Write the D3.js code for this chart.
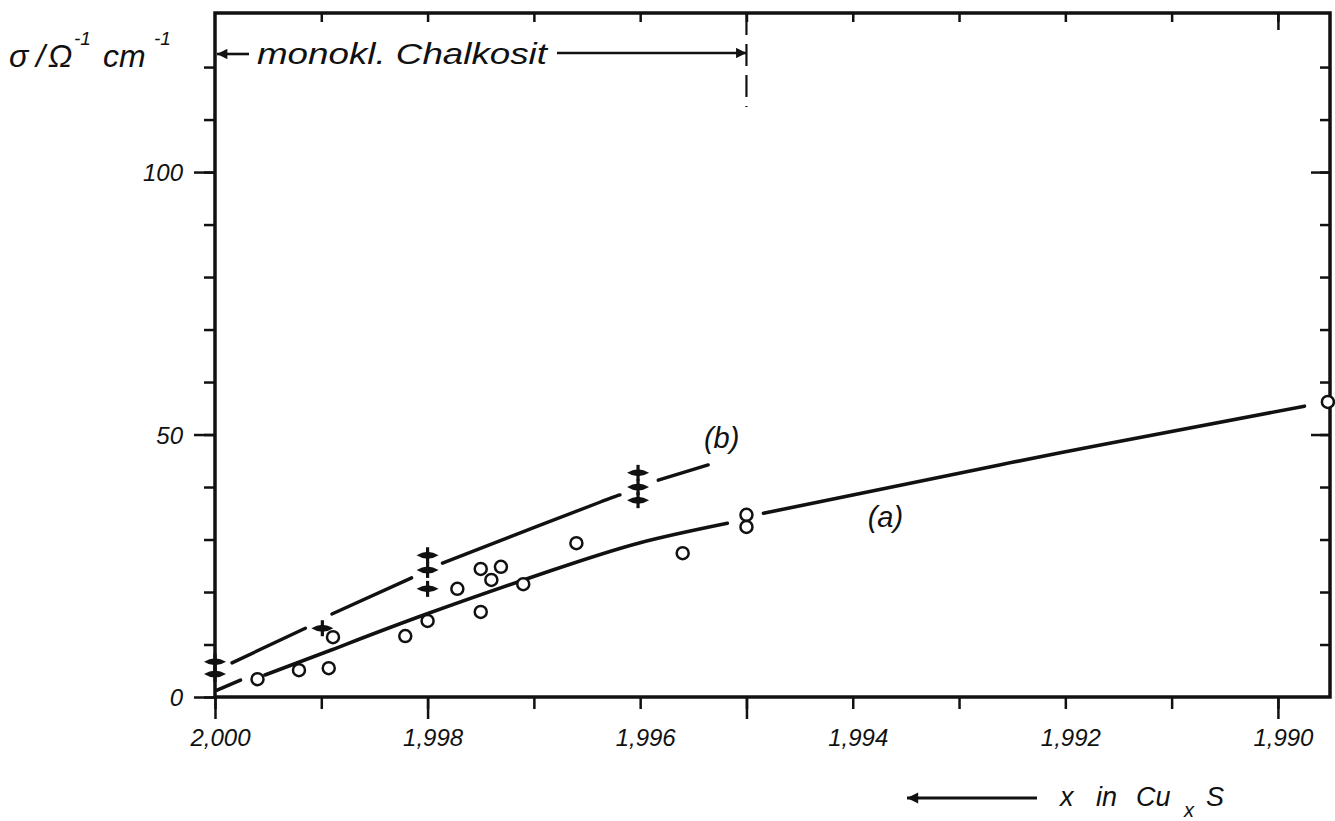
<!DOCTYPE html>
<html>
<head>
<meta charset="utf-8">
<script src="https://d3js.org/d3.v7.min.js"></script>
<style>
  body { margin: 0; background: #fff; }
  svg { display: block; }
  text { font-family: "Liberation Sans", Arial, sans-serif; font-style: italic; fill: #111; }
</style>
</head>
<body>
<svg width="1335" height="821"></svg>
<script>
// measured points (x in CuxS, sigma in Ohm^-1 cm^-1)
var circleX = [1.99960, 1.99921, 1.99893, 1.99889, 1.99821, 1.99800, 1.99772, 1.99750, 1.99750, 1.99740, 1.99731, 1.99710, 1.99660, 1.99560, 1.99500, 1.99500, 1.98953];
var circleY = [3.4, 5.1, 5.5, 11.4, 11.6, 14.5, 20.6, 24.4, 16.2, 22.3, 24.8, 21.5, 29.3, 27.4, 34.7, 32.4, 56.2];
var crossX = [2.000, 2.000, 1.99899, 1.998, 1.998, 1.998, 1.99602, 1.99602, 1.99602];
var crossY = [6.7, 4.4, 13.1, 27.0, 24.2, 20.6, 42.7, 40.0, 37.5];

// curve (a), solid, broken where it passes markers
var curveA = [
  { x: [1.99998, 1.99976], y: [1.3, 3.2] },
  { x: [1.99953, 1.99890, 1.99801, 1.99685, 1.99600, 1.99518], y: [4.2, 9.0, 15.8, 24.0, 29.4, 33.1] },
  { x: [1.99484, 1.99262, 1.99167, 1.98975], y: [35.0, 44.2, 48.0, 55.4] }
];
// curve (b), dashed
var curveB = [
  { x: [1.99984, 1.99915], y: [6.5, 13.1] },
  { x: [1.99890, 1.99815], y: [15.8, 22.7] },
  { x: [1.99786, 1.99711, 1.99638, 1.99619], y: [25.5, 31.4, 37.1, 38.5] },
  { x: [1.99583, 1.99536], y: [41.3, 44.2] }
];

var xTicks = [2.000, 1.999, 1.998, 1.997, 1.996, 1.995, 1.994, 1.993, 1.992, 1.991, 1.990];
var xLabels = [2.000, 1.998, 1.996, 1.994, 1.992, 1.990];
var xLongTicks = [2.000, 1.998, 1.995, 1.990];
var yTicks = [0, 10, 20, 30, 40, 50, 60, 70, 80, 90, 100, 110, 120];
var yLabels = [0, 50, 100];
var chalkositEnd = 1.995;

var svg = d3.select("svg");
var pL = 215, pR = 1330, pT = 13, pB = 697;

var x = d3.scaleLinear().domain([2.000, 1.98951]).range([pL, pR]);
var y = d3.scaleLinear().domain([0, 130.3]).range([pB, pT]);
var fmt = function (d) { return d3.format(".3f")(d).replace(".", ","); };

// axes
function styleAxis(g) {
  g.select(".domain").remove();
  g.selectAll(".tick line").attr("stroke", "#111").attr("stroke-width", 2.5);
}

svg.append("g").attr("transform", "translate(0," + pB + ")")
  .call(d3.axisBottom(x).tickValues(xTicks).tickSize(12).tickFormat(""))
  .call(styleAxis);
svg.append("g").attr("transform", "translate(0," + pB + ")")
  .call(d3.axisBottom(x).tickValues(xLongTicks).tickSize(22).tickFormat(""))
  .call(styleAxis);
var xl = svg.append("g").attr("transform", "translate(0," + pB + ")")
  .call(d3.axisBottom(x).tickValues(xLabels).tickSize(0).tickFormat(fmt))
  .call(styleAxis);
xl.selectAll("text").attr("y", 49).attr("dy", 0).attr("dx", 5)
  .style("font-size", "24px").attr("font-family", null);

svg.append("g").attr("transform", "translate(0," + pT + ")")
  .call(d3.axisTop(x).tickValues(xTicks.slice(1)).tickSize(-9).tickFormat(""))
  .call(styleAxis);
svg.append("g").attr("transform", "translate(0," + pT + ")")
  .call(d3.axisTop(x).tickValues([1.990]).tickSize(-17).tickFormat(""))
  .call(styleAxis);

svg.append("g").attr("transform", "translate(" + pL + ",0)")
  .call(d3.axisLeft(y).tickValues(yTicks).tickSize(11).tickFormat(""))
  .call(styleAxis);
var yl = svg.append("g").attr("transform", "translate(" + pL + ",0)")
  .call(d3.axisLeft(y).tickValues(yLabels).tickSize(21).tickFormat(d3.format("d")))
  .call(styleAxis);
yl.selectAll("text").attr("x", -32).attr("dy", "0.36em")
  .style("font-size", "24px").attr("font-family", null);

svg.append("g").attr("transform", "translate(" + pR + ",0)")
  .call(d3.axisRight(y).tickValues(yTicks.slice(1)).tickSize(-10).tickFormat(""))
  .call(styleAxis);
svg.append("g").attr("transform", "translate(" + pR + ",0)")
  .call(d3.axisRight(y).tickValues([50, 100]).tickSize(-19).tickFormat(""))
  .call(styleAxis);

// frame
svg.append("rect")
  .attr("x", pL).attr("y", pT)
  .attr("width", pR - pL).attr("height", pB - pT)
  .attr("fill", "none").attr("stroke", "#111").attr("stroke-width", 3.5);

// curves
var line = d3.line()
  .x(function (d) { return x(d[0]); })
  .y(function (d) { return y(d[1]); })
  .curve(d3.curveNatural);

function segPts(s) { return s.x.map(function (v, i) { return [v, s.y[i]]; }); }

svg.selectAll(".curve-a").data(curveA).enter().append("path")
  .attr("class", "curve-a")
  .attr("d", function (s) { return line(segPts(s)); })
  .attr("fill", "none").attr("stroke", "#111").attr("stroke-width", 3.6)
  .attr("stroke-linecap", "round");

svg.selectAll(".curve-b").data(curveB).enter().append("path")
  .attr("class", "curve-b")
  .attr("d", function (s) { return line(segPts(s)); })
  .attr("fill", "none").attr("stroke", "#111").attr("stroke-width", 3.4)
  .attr("stroke-linecap", "round");

// circle markers
svg.selectAll(".pt-a").data(circleX).enter().append("circle")
  .attr("class", "pt-a")
  .attr("cx", function (d) { return x(d); })
  .attr("cy", function (d, i) { return y(circleY[i]); })
  .attr("r", 6)
  .attr("fill", "#fff").attr("stroke", "#111").attr("stroke-width", 2.5);

// cross markers
var cross = svg.selectAll(".pt-b").data(crossX).enter().append("g")
  .attr("class", "pt-b")
  .attr("transform", function (d, i) { return "translate(" + x(d) + "," + y(crossY[i]) + ")"; });
cross.append("path")
  .attr("d", "M-11,0 Q0,-7 11,0 Q0,7 -11,0 Z")
  .attr("fill", "#111");
cross.append("line")
  .attr("x1", 0).attr("x2", 0).attr("y1", -8).attr("y2", 8)
  .attr("stroke", "#111").attr("stroke-width", 3.2);

// curve labels
svg.append("text").attr("x", x(1.99540)).attr("y", y(47.4))
  .style("font-size", "29px").text("(b)");
svg.append("text").attr("x", x(1.99386)).attr("y", y(32.4))
  .style("font-size", "29px").text("(a)");

// monoklin Chalkosit range annotation
var annY = 54;
var defs = svg.append("defs");
defs.append("marker").attr("id", "head").attr("viewBox", "0 0 10 10")
  .attr("refX", 10).attr("refY", 5).attr("markerWidth", 6).attr("markerHeight", 4)
  .attr("markerUnits", "strokeWidth").attr("orient", "auto-start-reverse")
  .append("path").attr("d", "M0,0 L10,5 L0,10 Z").attr("fill", "#111");

svg.append("line")
  .attr("x1", 249).attr("x2", x(2.000) + 2).attr("y1", annY).attr("y2", annY)
  .attr("stroke", "#111").attr("stroke-width", 2.6).attr("marker-end", "url(#head)");
svg.append("line")
  .attr("x1", 557).attr("x2", x(chalkositEnd)).attr("y1", annY - 1).attr("y2", annY - 1)
  .attr("stroke", "#111").attr("stroke-width", 2.6).attr("marker-end", "url(#head)");
svg.append("text").attr("x", 257).attr("y", 64)
  .attr("textLength", 290).attr("lengthAdjust", "spacingAndGlyphs")
  .style("font-size", "30px").text("monokl. Chalkosit");
svg.append("line")
  .attr("x1", x(chalkositEnd)).attr("x2", x(chalkositEnd))
  .attr("y1", pT).attr("y2", 107)
  .attr("stroke", "#111").attr("stroke-width", 2.2)
  .attr("stroke-dasharray", "22,9");

// y axis title
var yt = svg.append("text").attr("y", 67).style("font-size", "32px");
yt.append("tspan").attr("x", 9).text("σ");
yt.append("tspan").attr("x", 36).text("/");
yt.append("tspan").attr("x", 48).text("Ω");
yt.append("tspan").attr("x", 74).attr("y", 45).style("font-size", "19px").text("-1");
yt.append("tspan").attr("x", 103).attr("y", 67).text("cm");
yt.append("tspan").attr("x", 154).attr("y", 45).style("font-size", "19px").text("-1");

// x axis title with arrow
svg.append("line")
  .attr("x1", 1037).attr("x2", 907).attr("y1", 798).attr("y2", 798)
  .attr("stroke", "#111").attr("stroke-width", 2.8).attr("marker-end", "url(#head)");
var xt = svg.append("text").attr("y", 806).style("font-size", "27px");
xt.append("tspan").attr("x", 1060).text("x");
xt.append("tspan").attr("x", 1096).text("in");
xt.append("tspan").attr("x", 1136).text("Cu");
xt.append("tspan").attr("x", 1184).attr("y", 817).style("font-size", "20px").text("x");
xt.append("tspan").attr("x", 1206).attr("y", 806).text("S");
</script>
</body>
</html>
